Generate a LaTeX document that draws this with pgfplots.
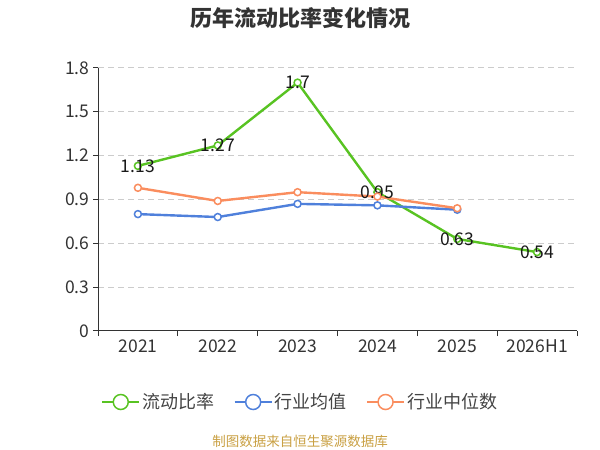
\documentclass[border=0pt]{standalone}
\usepackage{fontspec}
\setmainfont{Noto Sans CJK SC}
\usepackage{pgfplots}
\pgfplotsset{compat=1.18}
\definecolor{cgreen}{HTML}{58C322}
\definecolor{cblue}{HTML}{4F80DB}
\definecolor{corange}{HTML}{FA8D5E}
\definecolor{cgrid}{HTML}{CCCCCC}
\definecolor{caxis}{HTML}{333333}
\definecolor{ctext}{HTML}{444444}
\definecolor{cfoot}{HTML}{C9A043}
\begin{document}
\begin{tikzpicture}[x=1pt,y=1pt]
\useasboundingbox (0,0) rectangle (600,450);
\node[font=\fontsize{22}{25}\selectfont\bfseries, text=caxis] at (300,432) {历年流动比率变化情况};
\node[font=\fontsize{13.5}{15}\selectfont, text=cfoot] at (300,9) {制图数据来自恒生聚源数据库};
\begin{axis}[
  at={(98pt,119pt)}, anchor=south west,
  scale only axis, width=479pt, height=263pt,
  xmin=-0.5, xmax=5.5, ymin=0, ymax=1.8,
  axis x line=bottom, axis y line=left,
  axis line style={-, caxis, line width=1pt},
  xtick={-0.5,0.5,1.5,2.5,3.5,4.5,5.5},
  xticklabels={2021,2022,2023,2024,2025,2026H1,{}},
  xticklabel style={xshift=40pt, font=\fontsize{17.5}{20}\selectfont, text=caxis},
  ytick={0,0.3,0.6,0.9,1.2,1.5,1.8},
  yticklabels={0,0.3,0.6,0.9,1.2,1.5,1.8},
  yticklabel style={font=\fontsize{17.5}{20}\selectfont, text=caxis},
  tick align=outside, major tick length=5pt,
  tick style={caxis, line width=1pt},
  ymajorgrids, grid style={cgrid, dashed, dash pattern=on 6pt off 4pt, line width=1pt},
  clip=false,
  legend style={draw=none, fill=none, inner sep=0pt, at={(rel axis cs:0.006,-0.27)}, anchor=west,
    font=\fontsize{18}{20}\selectfont, text=ctext,
    /tikz/every even column/.append style={column sep=17pt}},
  legend columns=3,
  legend image code/.code={
    \draw[#1, mark=none] (0pt,0pt) -- (37pt,0pt);
    \draw[#1, mark=none, fill=white, line width=1.5pt] (18.5pt,0pt) circle (7.5pt);
  },
  every axis plot/.append style={line width=2.4pt, mark=*, mark size=3.5pt, mark options={fill=white, solid, line width=1.5pt}},
]
\addplot[cgreen, point meta=explicit symbolic, nodes near coords,
  every node near coord/.append style={anchor=center, text=black!90, font=\fontsize{17.5}{20}\selectfont}]
  coordinates {(0,1.13)[1.13] (1,1.27)[1.27] (2,1.70)[1.7] (3,0.95)[0.95] (4,0.63)[0.63] (5,0.54)[0.54]};
\addlegendentry{流动比率}
\addplot[cblue] coordinates {(0,0.80) (1,0.78) (2,0.87) (3,0.86) (4,0.83)};
\addlegendentry{行业均值}
\addplot[corange] coordinates {(0,0.98) (1,0.89) (2,0.95) (3,0.92) (4,0.84)};
\addlegendentry{行业中位数}
\end{axis}
\end{tikzpicture}
\end{document}
